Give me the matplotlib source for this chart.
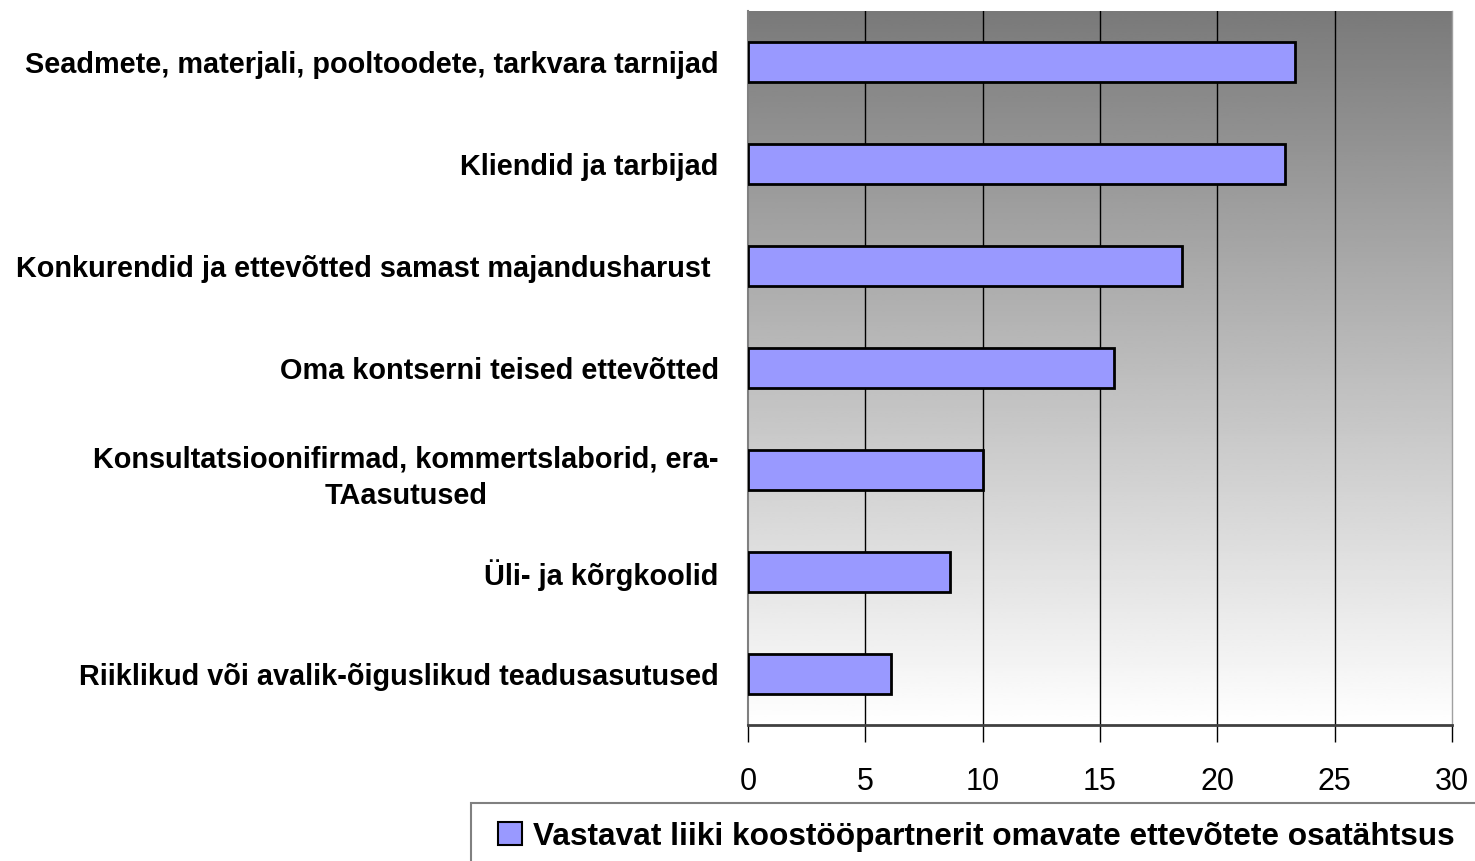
import numpy as np
import matplotlib
matplotlib.use("Agg")
import matplotlib.pyplot as plt
from matplotlib.patches import Patch, Rectangle

# Andmed (loetud jooniselt)
kategooriad = [
    "Seadmete, materjali, pooltoodete, tarkvara tarnijad",
    "Kliendid ja tarbijad",
    "Konkurendid ja ettevõtted samast majandusharust ",
    "Oma kontserni teised ettevõtted",
    "Konsultatsioonifirmad, kommertslaborid, era-\nTAasutused",
    "Üli- ja kõrgkoolid",
    "Riiklikud või avalik-õiguslikud teadusasutused",
]
osatahtsus = [23.3, 22.9, 18.5, 15.6, 10.0, 8.6, 6.1]
x_ticks = [0, 5, 10, 15, 20, 25, 30]
legendi_tekst = "Vastavat liiki koostööpartnerit omavate ettevõtete osatähtsus"

kiri = ["Liberation Sans", "DejaVu Sans"]


def main():
    W, H = 1475, 861
    fig = plt.figure(figsize=(W / 100, H / 100), dpi=100)
    ax = fig.add_axes([748 / W, 1 - 725 / H, (1452 - 748) / W, (725 - 11) / H])

    # Hall gradient taustal (ülevalt tume, alt valge)
    grad = np.linspace(0.478, 1.0, 256).reshape(-1, 1)
    ax.imshow(grad, cmap="gray", vmin=0, vmax=1, aspect="auto",
              extent=[0, 30, len(kategooriad) - 0.5, -0.5], zorder=0)

    y = np.arange(len(kategooriad))
    ax.barh(y, osatahtsus, height=0.39, color="#9999ff",
            edgecolor="black", linewidth=2, zorder=3)

    ax.set_xlim(0, 30)
    ax.set_ylim(len(kategooriad) - 0.5, -0.5)
    ax.set_xticks(x_ticks)
    ax.set_xticklabels([str(t) for t in x_ticks], fontsize=22, family=kiri)
    ax.tick_params(axis="x", direction="out", length=12, width=1,
                   color="black", pad=18)
    for t in x_ticks[1:-1]:
        ax.axvline(t, color="black", linewidth=1, zorder=1)

    ax.set_yticks(y)
    ax.set_yticklabels(kategooriad, fontsize=20.8, fontweight="bold", family=kiri)
    for lbl in ax.get_yticklabels():
        lbl.set_multialignment("center")
        lbl.set_linespacing(1.4)
    ax.tick_params(axis="y", length=0, pad=21)

    ax.spines["bottom"].set_color("#404040")
    ax.spines["bottom"].set_linewidth(2)
    ax.spines["left"].set_color("#808080")
    ax.spines["left"].set_linewidth(1.5)
    ax.spines["top"].set_visible(False)
    ax.spines["right"].set_color("#a0a0a0")
    ax.spines["right"].set_linewidth(1)

    # Legendi raam ulatub pildist välja
    fig.patches.append(Rectangle((471 / W, -0.1), 1.0, 0.1 + (H - 803) / H,
                                 transform=fig.transFigure, facecolor="white",
                                 edgecolor="#808080", linewidth=1.5))

    kast = Patch(facecolor="#9999ff", edgecolor="black", linewidth=1.5)
    fig.legend([kast], [legendi_tekst], loc="center left",
               bbox_to_anchor=(498 / W, 1 - 836.5 / H),
               prop={"family": kiri, "weight": "bold", "size": 22.8},
               frameon=False, handlelength=0.75, handleheight=0.75,
               handletextpad=0.35, borderpad=0, borderaxespad=0)

    fig.savefig("out.png", dpi=100)


if __name__ == '__main__':
    main()
